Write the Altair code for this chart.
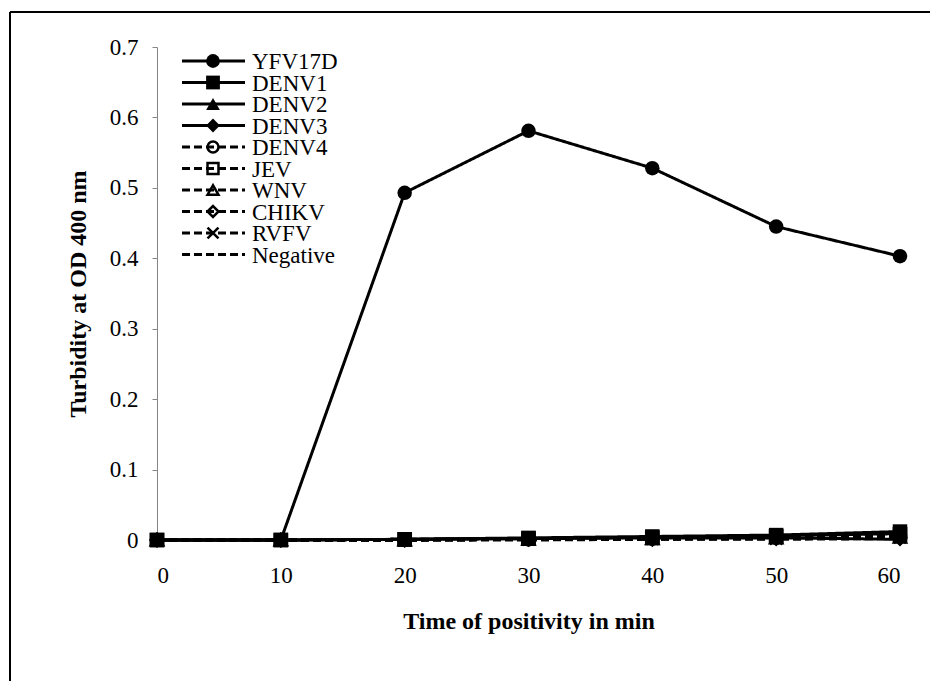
import altair as alt
import pandas as pd

# Sampling times (min)
times = [0, 10, 20, 30, 40, 50, 60]

# Turbidity readings (OD 400 nm) for each virus / control
series_names = ["YFV17D", "DENV1", "DENV2", "DENV3", "DENV4",
                "JEV", "WNV", "CHIKV", "RVFV", "Negative"]
yfv17d   = [0.0, 0.0, 0.493, 0.581, 0.528, 0.445, 0.403]
denv1    = [0.0, 0.0, 0.001, 0.003, 0.005, 0.007, 0.012]
denv2    = [0.0, 0.0, 0.001, 0.002, 0.004, 0.006, 0.009]
denv3    = [0.0, 0.0, 0.001, 0.002, 0.003, 0.003, 0.001]
denv4    = [0.0, 0.0, 0.000, 0.001, 0.002, 0.003, 0.005]
jev      = [0.0, 0.0, 0.001, 0.002, 0.003, 0.005, 0.008]
wnv      = [0.0, 0.0, 0.000, 0.001, 0.002, 0.003, 0.004]
chikv    = [0.0, 0.0, 0.000, 0.001, 0.001, 0.002, 0.003]
rvfv     = [0.0, 0.0, 0.000, 0.001, 0.002, 0.002, 0.004]
negative = [0.0, 0.0, 0.000, 0.000, 0.001, 0.001, 0.002]

values = [yfv17d, denv1, denv2, denv3, denv4, jev, wnv, chikv, rvfv, negative]

# Line / marker styling per series
X_PATH = "M-1,-1L1,1M-1,1L1,-1"
shapes = ["circle", "square", "triangle-up", "diamond",
          "circle", "square", "triangle-up", "diamond", X_PATH, "circle"]
dashes = [[1, 0]] * 4 + [[8, 4]] * 6
filled_series = series_names[:4]
open_series = series_names[4:9]

FONT = "Liberation Serif"

rows = []
for name, vals in zip(series_names, values):
    for t, v in zip(times, vals):
        rows.append({"series": name, "time": t, "od": v})
df = pd.DataFrame(rows)

# x axis: the baseline itself is hidden beneath the series lines, so the
# axis is offset downward to place the labels below it
x_enc = alt.X("time:Q", scale=alt.Scale(domain=[0, 60], nice=False),
              axis=alt.Axis(values=times, title="Time of positivity in min",
                            ticks=False, domain=False, offset=22,
                            labelBaseline="top",
                            labelFont=FONT, titleFont=FONT,
                            labelFontSize=23, labelPadding=2, titleFontSize=24,
                            titleFontWeight="bold", titlePadding=22))
y_enc = alt.Y("od:Q", scale=alt.Scale(domain=[0, 0.7], nice=False),
              axis=alt.Axis(values=[0, 0.1, 0.2, 0.3, 0.4, 0.5, 0.6, 0.7],
                            format=".1~f", title="Turbidity at OD 400 nm",
                            tickSize=5, tickColor="#868686", domainColor="#868686",
                            labelFont=FONT, titleFont=FONT,
                            labelFontSize=23, labelPadding=14, titleFontSize=24,
                            titleFontWeight="bold", titlePadding=19))

dash_scale = alt.Scale(domain=series_names, range=dashes)
shape_scale = alt.Scale(domain=series_names, range=shapes)

lines = alt.Chart(df).mark_line(color="black", strokeWidth=3).encode(
    x=x_enc, y=y_enc,
    detail="series:N",
    strokeDash=alt.StrokeDash("series:N", scale=dash_scale, legend=None),
)

filled_pts = alt.Chart(df).transform_filter(
    alt.FieldOneOfPredicate(field="series", oneOf=filled_series)
).mark_point(filled=True, color="black", opacity=1, size=210).encode(
    x="time:Q", y="od:Q",
    shape=alt.Shape("series:N", scale=shape_scale, legend=None),
)

open_pts = alt.Chart(df).transform_filter(
    alt.FieldOneOfPredicate(field="series", oneOf=open_series)
).mark_point(filled=False, color="black", opacity=1, size=150, strokeWidth=2.5).encode(
    x="time:Q", y="od:Q",
    shape=alt.Shape("series:N", scale=shape_scale, legend=None),
)

# Legend table: one row per series, placed in the upper-left of the plot
leg = pd.DataFrame({
    "series": series_names,
    "ly": [14 + 21.5 * i for i in range(len(series_names))],
})
leg["x1"] = 25
leg["x2"] = 88
leg["mx"] = 56
leg["tx"] = 95

leg_lines = alt.Chart(leg).mark_rule(color="black", strokeWidth=3).encode(
    x=alt.X("x1:Q", scale=None), x2="x2:Q",
    y=alt.Y("ly:Q", scale=None),
    strokeDash=alt.StrokeDash("series:N", scale=dash_scale, legend=None),
)
leg_filled = alt.Chart(leg).transform_filter(
    alt.FieldOneOfPredicate(field="series", oneOf=filled_series)
).mark_point(filled=True, color="black", opacity=1, size=190).encode(
    x=alt.X("mx:Q", scale=None), y=alt.Y("ly:Q", scale=None),
    shape=alt.Shape("series:N", scale=shape_scale, legend=None),
)
leg_open = alt.Chart(leg).transform_filter(
    alt.FieldOneOfPredicate(field="series", oneOf=open_series)
).mark_point(filled=False, color="black", opacity=1, size=120, strokeWidth=2.5).encode(
    x=alt.X("mx:Q", scale=None), y=alt.Y("ly:Q", scale=None),
    shape=alt.Shape("series:N", scale=shape_scale, legend=None),
)
leg_text = alt.Chart(leg).mark_text(
    align="left", baseline="middle", fontSize=23, font=FONT, color="black", dy=1
).encode(
    x=alt.X("tx:Q", scale=None), y=alt.Y("ly:Q", scale=None), text="series:N",
)

# Outer frame around the figure (top and left edges)
frame_top = alt.Chart(leg).mark_rule(color="black", strokeWidth=2).encode(
    x=alt.value(-147), x2=alt.value(800), y=alt.value(-35))
frame_left = alt.Chart(leg).mark_rule(color="black", strokeWidth=2).encode(
    x=alt.value(-147), y=alt.value(-35), y2=alt.value(700))

chart = alt.layer(
    frame_top, frame_left, lines, open_pts, filled_pts,
    leg_lines, leg_open, leg_filled, leg_text,
).properties(
    width=743, height=493,
    autosize=alt.AutoSizeParams(type="none"),
    padding={"left": 157, "top": 47, "right": 30, "bottom": 141},
    background="white",
).configure_view(
    stroke=None
).configure_axis(
    labelFont=FONT, titleFont=FONT, labelColor="black", titleColor="black",
    grid=False,
)

chart.save("out.html", embed_options={"renderer": "svg", "actions": False})
